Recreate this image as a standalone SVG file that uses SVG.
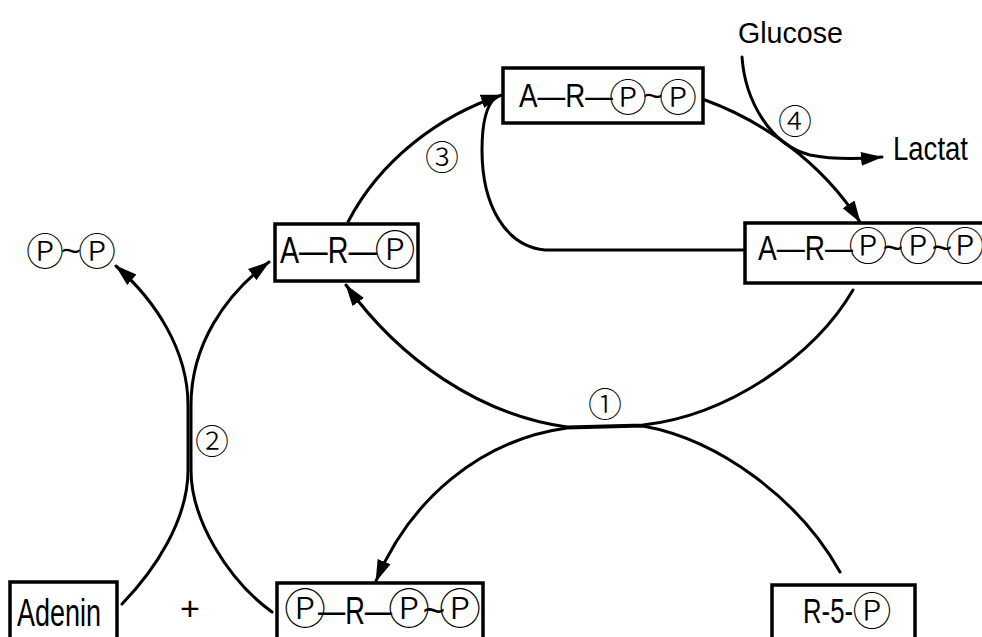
<svg xmlns="http://www.w3.org/2000/svg" width="982" height="637" viewBox="0 0 982 637">
<defs>
<marker id="ah" markerUnits="userSpaceOnUse" markerWidth="22" markerHeight="16" refX="21" refY="8" orient="auto">
<path d="M0,1 L22,8 L0,15 Z" fill="#000"/>
</marker>
<style>
.box{fill:#fff;stroke:#000;stroke-width:3.5}
.t{font-family:"Liberation Sans","DejaVu Sans","Noto Sans CJK JP",sans-serif;fill:#000}
.p{text-anchor:middle;font-weight:300}
.m{text-anchor:middle}
.n{font-family:"Liberation Sans","DejaVu Sans","Noto Sans CJK JP",sans-serif;fill:#000;font-size:34px;font-weight:300;text-anchor:middle;dominant-baseline:central}
.c{fill:none;stroke:#000;stroke-width:3;stroke-linecap:round}
</style>
</defs>
<rect width="982" height="637" fill="#fff"/>

<g id="connectors">
<path class="c" d="M348,222 C380,160 440,115 502,95" marker-end="url(#ah)"/>
<path class="c" d="M745,250 L545,250 C505,246 482,205 482,150 C482,122 486,106 495,98"/>
<path class="c" d="M705,100 C760,120 820,160 860,222" marker-end="url(#ah)"/>
<path class="c" d="M742,57 C745,100 770,145 810,155 C835,160 860,159 882,157" marker-end="url(#ah)"/>
<path class="c" d="M853,290 C815,355 730,415 643,425 L567,427 C480,415 400,360 346,285" marker-end="url(#ah)"/>
<path class="c" d="M840,572 C800,500 720,440 643,426 L567,428 C480,440 410,500 376,581" marker-end="url(#ah)"/>
<path class="c" d="M122,604 C155,570 188,520 188,470 L188,405 C188,350 155,300 116,266" marker-end="url(#ah)"/>
<path class="c" d="M272,612 C228,580 191,520 191,470 L191,405 C191,345 225,295 269,262" marker-end="url(#ah)"/>
</g>

<g id="atp">
<rect class="box" x="503" y="68" width="200" height="55"/>
<text class="t" y="107" font-size="34"><tspan x="519" textLength="94" lengthAdjust="spacingAndGlyphs">A—R—</tspan><tspan class="p" x="628" y="111" font-size="38">Ⓟ</tspan><tspan class="m" x="653" y="107">~</tspan><tspan class="p" x="678" y="111" font-size="38">Ⓟ</tspan></text>
</g>
<g id="amp">
<rect class="box" x="275" y="224" width="143" height="57"/>
<text class="t" y="263" font-size="37"><tspan x="280" textLength="97" lengthAdjust="spacingAndGlyphs">A—R—</tspan><tspan class="p" x="395" y="265" font-size="41">Ⓟ</tspan></text>
</g>
<g id="adp">
<rect class="box" x="745" y="223" width="250" height="60"/>
<text class="t" y="260" font-size="35"><tspan x="758" textLength="95" lengthAdjust="spacingAndGlyphs">A—R—</tspan><tspan class="p" x="868" y="260" font-size="39">Ⓟ</tspan><tspan class="m" x="893" y="260">~</tspan><tspan class="p" x="918" y="260" font-size="39">Ⓟ</tspan><tspan class="m" x="942" y="260">~</tspan><tspan class="p" x="965" y="260" font-size="39">Ⓟ</tspan></text>
</g>
<g id="ppi">
<text class="t" y="262" font-size="34"><tspan class="p" x="45" y="265" font-size="38">Ⓟ</tspan><tspan class="m" x="71" y="262">~</tspan><tspan class="p" x="97" y="265" font-size="38">Ⓟ</tspan></text>
</g>
<g id="glucose">
<text class="t" x="738" y="43" font-size="30" textLength="105" lengthAdjust="spacingAndGlyphs">Glucose</text>
</g>
<g id="lactat">
<text class="t" x="893" y="160" font-size="33" textLength="75" lengthAdjust="spacingAndGlyphs">Lactat</text>
</g>
<g id="adenin">
<rect class="box" x="10" y="582" width="107" height="70"/>
<text class="t" x="17" y="626" font-size="38" textLength="84" lengthAdjust="spacingAndGlyphs">Adenin</text>
</g>
<g id="plus">
<text class="t" x="190" y="620" font-size="34" text-anchor="middle">+</text>
</g>
<g id="prpp">
<rect class="box" x="277" y="583" width="206" height="70"/>
<text class="t" y="624" font-size="39"><tspan class="p" x="305" y="624" font-size="42">Ⓟ</tspan><tspan x="318" y="624" textLength="74" lengthAdjust="spacingAndGlyphs">—R—</tspan><tspan class="p" x="409" y="624" font-size="42">Ⓟ</tspan><tspan class="m" x="434" y="624">~</tspan><tspan class="p" x="460" y="624" font-size="42">Ⓟ</tspan></text>
</g>
<g id="r5p">
<rect class="box" x="772" y="585" width="143" height="70"/>
<text class="t" y="623" font-size="35"><tspan x="803" textLength="50" lengthAdjust="spacingAndGlyphs">R-5-</tspan><tspan class="p" x="872" y="625" font-size="39">Ⓟ</tspan></text>
</g>

<g id="labels">
<text class="n" x="605" y="405">①</text>
<text class="n" x="212" y="442">②</text>
<text class="n" x="442" y="158">③</text>
<text class="n" x="795" y="122">④</text>
</g>
</svg>
